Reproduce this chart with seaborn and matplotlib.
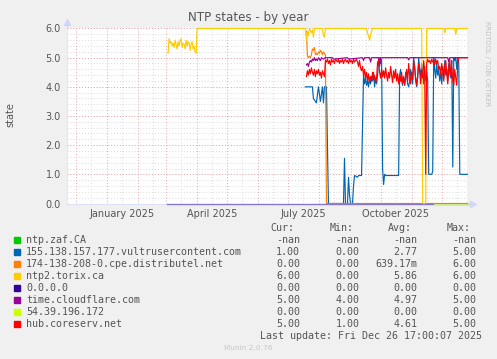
import numpy as np
import pandas as pd
import matplotlib
matplotlib.use("Agg")
import matplotlib.pyplot as plt
from matplotlib.patches import Rectangle
from matplotlib.lines import Line2D
import seaborn as sns

# ---------------- data ----------------
names = ['ntp.zaf.CA', '155.138.157.177.vultrusercontent.com',
         '174-138-208-0.cpe.distributel.net', 'ntp2.torix.ca', '0.0.0.0',
         'time.cloudflare.com', '54.39.196.172', 'hub.coreserv.net']
colors = ['#00CC00', '#0066B3', '#FF8000', '#FFCC00', '#330099',
          '#990099', '#CCFF00', '#FF0000']
cur_vals = ['-nan', '1.00', '0.00', '6.00', '0.00', '5.00', '0.00', '5.00']
min_vals = ['-nan', '0.00', '0.00', '0.00', '0.00', '4.00', '0.00', '1.00']
avg_vals = ['-nan', '2.77', '639.17m', '5.86', '0.00', '4.97', '0.00', '4.61']
max_vals = ['-nan', '5.00', '6.00', '6.00', '0.00', '5.00', '0.00', '5.00']

# days counted from 2025-01-01
zaf_days = []
zaf_vals = []

vultr_days = [198, 205, 206, 209, 211, 213, 215, 216, 217, 219, 221, 236, 237, 238, 240, 241,
              242, 243, 245, 246, 247, 250, 251, 254, 256, 257, 258, 259, 260, 261, 262, 263,
              264, 265, 266, 267, 268, 269, 270, 271, 272, 273, 274, 275, 276, 277, 278, 291,
              292, 293, 294, 295, 296, 297, 298, 299, 300, 301, 302, 303, 304, 305, 306, 307,
              308, 309, 310, 311, 312, 313, 314, 315, 316, 317, 318, 319, 320, 321, 324, 325,
              326, 327, 328, 329, 330, 331, 332, 333, 334, 335, 336, 337, 338, 339, 340, 341,
              342, 343, 344, 345, 346, 347, 348, 349, 350, 351, 352, 359.7]
vultr_vals = [4.0, 4.0, 3.6, 3.45, 4.0, 3.5, 4.0, 3.45, 4.0, 4.0, 0.0, 0.0, 1.55, 0.0, 0.0, 0.9,
              0.3, 0.0, 0.0, 0.6, 0.96, 0.9, 0.96, 0.96, 4.4, 4.1, 4.3, 4.05, 4.2, 4.0, 4.3, 4.1,
              4.35, 4.2, 4.5, 4.0, 4.3, 4.1, 4.4, 4.9, 5.0, 4.8, 4.95, 1.2, 0.65, 1.0, 0.96, 0.96,
              4.4, 4.6, 4.2, 4.05, 4.3, 4.1, 4.5, 4.4, 4.1, 4.0, 4.2, 4.6, 4.3, 4.1, 5.0, 4.7,
              4.2, 4.0, 4.3, 5.0, 4.6, 4.4, 4.8, 4.5, 4.1, 4.7, 4.2, 4.5, 4.2, 1.0, 1.0, 1.1,
              5.0, 4.6, 4.3, 4.8, 4.4, 4.6, 4.2, 4.5, 4.1, 4.7, 4.3, 4.9, 4.4, 4.6, 4.2, 4.8,
              4.5, 4.3, 4.9, 1.25, 5.0, 4.9, 5.0, 4.6, 5.0, 4.8, 1.0, 1.0]

distributel_days = [199, 200, 201, 202, 203, 204, 205, 206, 207, 208, 209, 210, 211, 212, 213,
                    214, 215, 216, 217, 218, 219, 359.7]
distributel_vals = [5.9, 5.05, 5.0, 5.05, 5.0, 5.1, 5.3, 5.25, 5.35, 5.1, 5.15, 5.1, 5.2, 5.15,
                    5.25, 5.2, 5.1, 5.2, 5.15, 5.1, 0.0, 0.0]

torix_days = [61, 62, 63, 64, 65, 66, 67, 68, 69, 70, 71, 72, 73, 74, 75, 76, 77, 78, 79, 80,
              81, 82, 83, 84, 85, 86, 87, 88, 89, 90, 198, 199, 200, 201, 202, 204, 205, 206,
              207, 215, 216, 217, 218, 259, 260, 262, 263, 265, 314, 315, 318, 319, 336, 337,
              338, 347, 348, 349, 359.7]
torix_vals = [5.15, 5.65, 5.5, 5.55, 5.4, 5.5, 5.35, 5.6, 5.45, 5.3, 5.55, 5.4, 5.6, 5.65, 5.35,
              5.5, 5.45, 5.3, 5.6, 5.4, 5.55, 5.5, 5.25, 5.45, 5.55, 5.3, 5.4, 5.2, 5.15, 6.0,
              6.0, 5.6, 5.9, 5.75, 6.0, 5.85, 5.95, 5.7, 6.0, 6.0, 5.75, 5.7, 6.0, 6.0, 5.85,
              5.6, 5.8, 6.0, 6.0, 0.0, 0.0, 6.0, 6.0, 5.85, 6.0, 6.0, 5.8, 6.0, 6.0]

zero_days = [60, 359.7]
zero_vals = [0.0, 0.0]

cloudflare_days = [199, 200, 201, 202, 203, 204, 205, 206, 207, 208, 209, 210, 211, 212, 213,
                   214, 216, 218, 225, 226, 240, 241, 255, 256, 257, 262, 263, 264, 271, 272,
                   273, 300, 301, 302, 340, 341, 342, 359.7]
cloudflare_vals = [4.75, 4.8, 4.7, 4.85, 4.9, 4.85, 4.95, 4.9, 5.0, 4.9, 4.95, 4.9, 5.0, 4.95,
                   4.9, 5.0, 4.95, 5.0, 5.0, 4.95, 5.0, 4.95, 5.0, 4.9, 5.0, 5.0, 4.85, 5.0,
                   5.0, 4.7, 5.0, 5.0, 4.92, 5.0, 5.0, 4.85, 5.0, 5.0]

lime_days = [326, 359.7]
lime_vals = [0.0, 0.0]

hub_days = [199, 200, 201, 202, 203, 204, 205, 206, 207, 208, 209, 210, 211, 212, 213, 214,
            215, 216, 217, 218, 219, 220, 221, 222, 223, 224, 225, 226, 227, 228, 229, 230,
            231, 232, 233, 234, 235, 236, 237, 238, 239, 240, 241, 242, 243, 244, 245, 246,
            247, 248, 249, 250, 251, 252, 253, 254, 255, 256, 257, 258, 259, 260, 261, 262,
            263, 264, 265, 266, 267, 268, 269, 270, 271, 272, 273, 274, 275, 276, 277, 278,
            279, 280, 281, 282, 283, 284, 285, 286, 287, 288, 289, 290, 291, 292, 293, 294,
            295, 296, 297, 298, 299, 300, 301, 302, 303, 304, 305, 306, 307, 308, 309, 310,
            311, 312, 313, 314, 315, 316, 317, 318, 319, 320, 321, 322, 323, 324, 325, 326,
            327, 328, 329, 330, 331, 332, 333, 334, 335, 336, 337, 338, 339, 340, 341, 342,
            343, 344, 345, 346, 347, 348, 349, 350, 351, 359.7]
hub_vals = [4.35, 4.55, 4.4, 4.6, 4.45, 4.65, 4.5, 4.4, 4.6, 4.35, 4.55, 4.45, 4.6, 4.4, 4.5,
            4.3, 4.55, 4.45, 4.35, 4.9, 4.85, 4.95, 4.8, 4.9, 4.75, 4.95, 4.85, 4.9, 4.8, 4.95,
            4.9, 4.85, 4.95, 4.8, 4.9, 4.85, 4.95, 4.8, 4.9, 4.95, 4.85, 4.9, 4.8, 4.95, 4.85,
            4.9, 4.8, 4.95, 4.85, 4.9, 4.95, 4.85, 4.7, 4.9, 4.65, 4.55, 4.7, 4.4, 4.6, 4.3,
            4.5, 4.2, 4.45, 4.15, 4.35, 4.2, 4.5, 4.25, 4.4, 4.15, 4.3, 4.85, 4.9, 4.5, 4.3,
            4.6, 4.35, 4.55, 4.3, 4.65, 4.4, 4.2, 4.5, 4.3, 4.7, 4.4, 4.15, 4.55, 4.3, 4.6,
            4.2, 4.45, 4.1, 4.4, 4.2, 4.5, 4.15, 4.35, 4.05, 4.3, 4.6, 4.2, 4.8, 4.4, 4.1,
            4.5, 4.25, 4.9, 4.6, 4.3, 4.05, 4.4, 4.8, 4.5, 4.1, 4.6, 4.3, 4.9, 4.5, 1.0, 4.8,
            4.95, 4.85, 4.9, 4.8, 4.95, 4.85, 4.9, 4.75, 4.95, 4.8, 4.9, 4.6, 4.7, 4.4, 4.8,
            4.5, 4.2, 4.7, 4.9, 4.5, 4.1, 4.6, 4.95, 4.4, 4.7, 4.2, 4.05, 4.6, 4.3, 4.05, 4.8,
            5.0, 5.0]

series_days = [zaf_days, vultr_days, distributel_days, torix_days, zero_days,
               cloudflare_days, lime_days, hub_days]
series_vals = [zaf_vals, vultr_vals, distributel_vals, torix_vals, zero_vals,
               cloudflare_vals, lime_vals, hub_vals]

x_labels = ['January 2025', 'April 2025', 'July 2025', 'October 2025']
x_label_dates = ['2025-01-16', '2025-04-16', '2025-07-16', '2025-10-16']
y_ticks = [0, 1, 2, 3, 4, 5, 6]

base = pd.Timestamp('2025-01-01')

W, H = 497, 359
fig = plt.figure(figsize=(W / 100, H / 100), dpi=100, facecolor='#F0F0F0')
# half-pixel offsets so that the 0 and 6 lines sit on pixel centres
L, R, T, B = 66.5, 467.5, 28.5, 203.5
ax = fig.add_axes([L / W, 1 - B / H, (R - L) / W, (B - T) / H])
ax.set_facecolor('white')

x0 = base + pd.to_timedelta(-40.3, unit='D')
x1 = base + pd.to_timedelta(359.7, unit='D')

# grid
minor_c = '#DCDCDC'
major_c = '#EBA8A8'
for yv in np.arange(0, 6.01, 0.2):
    ax.axhline(yv, color=minor_c, lw=0.7, ls=(0, (1, 2)), zorder=0)
for yv in y_ticks:
    ax.axhline(yv, color=major_c, lw=0.7, ls=(0, (1, 2)), zorder=0.5)
for dt in pd.date_range('2024-11-16', '2025-12-31', freq='SMS-16'):
    if x0 <= dt <= x1 and dt.day != 1:
        ax.axvline(dt, color=minor_c, lw=0.7, ls=(0, (1, 2)), zorder=0)
for dt in pd.date_range('2024-11-01', '2025-12-31', freq='MS'):
    if x0 <= dt <= x1:
        ax.axvline(dt, color=major_c, lw=0.7, ls=(0, (1, 2)), zorder=0.5)

# series drawn in legend order (later ones on top, as in rrdtool)
for k, (n, c, d, v) in enumerate(zip(names, colors, series_days, series_vals)):
    if not len(v):
        continue
    sdf = pd.DataFrame({'date': base + pd.to_timedelta(d, unit='D'), 'value': v})
    before = len(ax.lines)
    sns.lineplot(data=sdf, x='date', y='value', color=c, estimator=None, sort=False,
                 lw=0.85, ax=ax)
    for ln in ax.lines[before:]:
        ln.set_zorder(10 + k)
        ln.set_clip_on(False)

ax.set_xlim(x0, x1)
ax.set_ylim(0, 6)

# axes styling
axis_c = '#CFD6F8'
for s in ['top', 'right']:
    ax.spines[s].set_visible(False)
for s in ['left', 'bottom']:
    ax.spines[s].set_color(axis_c)
    ax.spines[s].set_linewidth(0.75)
    ax.spines[s].set_alpha(0.55)
    ax.spines[s].set_zorder(30)
ax.add_line(Line2D([0, 0], [1, 1.03], transform=ax.transAxes, color=axis_c, lw=0.75, clip_on=False))
ax.add_line(Line2D([1, 1.01], [0, 0], transform=ax.transAxes, color=axis_c, lw=0.75, clip_on=False))
ax.plot([0], [1.035], marker='^', ms=5, color=axis_c, transform=ax.transAxes, clip_on=False)
ax.plot([1.013], [0], marker='>', ms=5, color=axis_c, transform=ax.transAxes, clip_on=False)

ax.set_yticks(y_ticks)
ax.set_yticklabels([f'{v:.1f}' for v in y_ticks])
ax.set_xticks([pd.Timestamp(d) for d in x_label_dates])
ax.set_xticklabels(x_labels)
ax.tick_params(axis='both', length=0, labelsize=7, labelcolor='#555555')
ax.tick_params(axis='y', pad=4)
ax.tick_params(axis='x', pad=4)
ax.set_xlabel('')
ax.set_ylabel('')

def ft(x, y, s, **kw):
    fig.text(x / W, 1 - y / H, s, **kw)

ft(248, 18, 'NTP states - by year', ha='center', va='center', fontsize=8.6, color='#555555')
ft(10, 115, 'state', ha='center', va='center', rotation=90, fontsize=7, color='#555555')
ft(487, 64, 'RRDTOOL / TOBI OETIKER', ha='center', va='center', rotation=270,
   fontsize=4.8, color='#C0C0C0')

mono = dict(family='DejaVu Sans Mono', fontsize=7.2, color='#555555', va='center')
ft(294.5, 228, 'Cur:', ha='right', **mono)
ft(353.5, 228, 'Min:', ha='right', **mono)
ft(412, 228, 'Avg:', ha='right', **mono)
ft(470.5, 228, 'Max:', ha='right', **mono)
for i, n in enumerate(names):
    y = 240 + 12 * i
    fig.patches.append(Rectangle((14 / W, 1 - (y + 3) / H), 6 / W, 6 / H,
                                 transform=fig.transFigure, color=colors[i]))
    ft(26, y, n, ha='left', **mono)
    ft(300, y, cur_vals[i], ha='right', **mono)
    ft(359.3, y, min_vals[i], ha='right', **mono)
    ft(417.7, y, avg_vals[i], ha='right', **mono)
    ft(476.7, y, max_vals[i], ha='right', **mono)
ft(482.3, 336, 'Last update: Fri Dec 26 17:00:07 2025', ha='right', **mono)
ft(248, 348.5, 'Munin 2.0.76', ha='center', va='center', fontsize=5.3, color='#C8C8C8')

fig.savefig('out.png', dpi=100, facecolor=fig.get_facecolor())
